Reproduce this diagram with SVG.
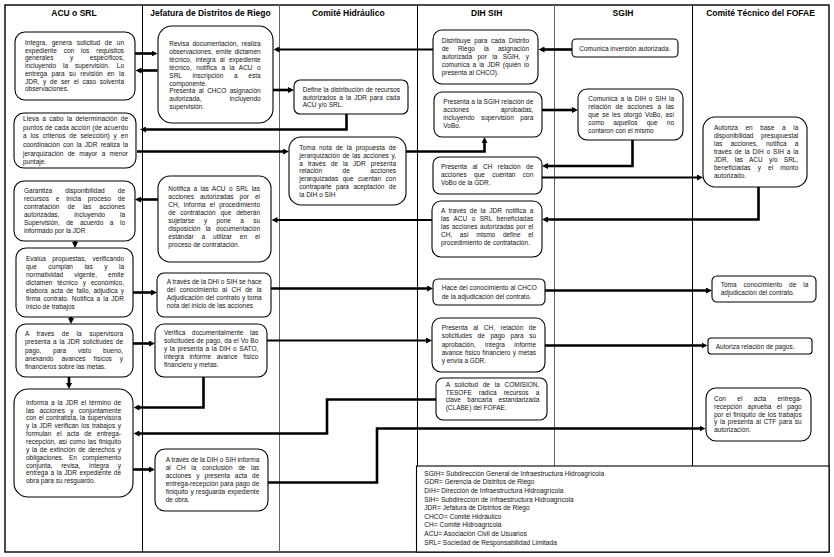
<svg xmlns="http://www.w3.org/2000/svg" width="834" height="557" viewBox="0 0 834 557">
<style>
.bg{fill:#fff}
.frame{fill:none;stroke:#000;stroke-width:1.4}
.lane{stroke:#000;stroke-width:1}
.lane2{stroke:#666;stroke-width:1}
.box{fill:#fff;stroke:#000;stroke-width:1.1}
.h{font-family:"Liberation Sans",Arial,sans-serif;font-size:8.5px;font-weight:bold;text-anchor:middle;fill:#000}
text.t{font-family:"Liberation Sans",Arial,sans-serif;font-size:6.5px;fill:#111}
text.l{font-family:"Liberation Sans",Arial,sans-serif;font-size:6.6px;fill:#111}
.c{fill:none;stroke:#000;stroke-width:2.6;marker-end:url(#ah)}
.thin{stroke-width:1.8}
.mid{stroke-width:2.1}
</style>
<defs>
<marker id="ah" viewBox="0 0 6 6" refX="2" refY="3" markerWidth="6" markerHeight="6" markerUnits="userSpaceOnUse" orient="auto">
<path d="M0,0 L6,3 L0,6 z" fill="#000"/>
</marker>
</defs>
<rect class="bg" x="0" y="0" width="834" height="557"/>
<g id="lanes">
<rect class="frame" x="5" y="5" width="824" height="547"/>
<line class="lane" x1="142.5" y1="5" x2="142.5" y2="552"/>
<line class="lane2" x1="279.5" y1="5" x2="279.5" y2="552"/>
<line class="lane" x1="417.5" y1="5" x2="417.5" y2="552"/>
<line class="lane2" x1="554.5" y1="5" x2="554.5" y2="466"/>
<line class="lane" x1="692.5" y1="5" x2="692.5" y2="466"/>
<text class="h" x="74" y="16">ACU o SRL</text>
<text class="h" x="210.5" y="16">Jefatura de Distritos de Riego</text>
<text class="h" x="348.3" y="16">Comité Hidráulico</text>
<text class="h" x="486.7" y="16">DIH SIH</text>
<text class="h" x="623" y="16">SGIH</text>
<text class="h" x="760.5" y="16">Comité Técnico del FOFAE</text>
</g>
<g id="connectors">
<path class="c" d="M135,53.5 H153.5"/>
<path class="c" d="M157.5,70.5 H139.5"/>
<path class="c thin" d="M433,49.5 H277.5"/>
<path class="c" d="M572,49.5 H542.5"/>
<path class="c" d="M273,90 H290"/>
<path class="c" d="M346.5,114 V129.5 H144"/>
<path class="c" d="M137,151.5 H285"/>
<path class="c" d="M406,151.5 H484.5 V141"/>
<path class="c" d="M542,110 H574"/>
<path class="c" d="M632.5,140 V166 H546"/>
<path class="c mid" d="M542,177.5 H699"/>
<path class="c" d="M758.5,187 V219.5 H546"/>
<path class="c mid" d="M432,220 H275.5"/>
<path class="c" d="M158,199.5 H139"/>
<path class="c" d="M75,241 V244"/>
<path class="c" d="M133,292.5 H153"/>
<path class="c" d="M271,288.5 H429"/>
<path class="c" d="M545,290.5 H708"/>
<path class="c" d="M71,317 V320"/>
<path class="c" d="M133,343.5 H151"/>
<path class="c mid" d="M267,340.5 H428"/>
<path class="c" d="M545,345.5 H703.5"/>
<path class="c" d="M69,377 V385"/>
<path class="c" d="M203.5,376.5 V407.5 H137.5"/>
<path class="c" d="M436,399.5 H327 V433.5 H137.5"/>
<path class="c" d="M133,469.5 H151"/>
<path class="c" d="M268,482.5 H377 V428.5 H701.5"/>
</g>
<g id="A1">
<rect class="box" x="15" y="32" width="120" height="68" rx="10"/>
<text class="t" x="25" y="44.7" textLength="99" lengthAdjust="spacing" style="word-spacing:2.9px">Integra, genera solicitud de un</text>
<text class="t" x="25" y="52.5" textLength="99" lengthAdjust="spacing" style="word-spacing:5.1px">expediente con los requisitos</text>
<text class="t" x="25" y="60.2" textLength="99" lengthAdjust="spacing" style="word-spacing:14.8px">generales y específicos,</text>
<text class="t" x="25" y="68" textLength="99" lengthAdjust="spacing" style="word-spacing:5.2px">incluyendo la supervisión. Lo</text>
<text class="t" x="25" y="75.8" textLength="99" lengthAdjust="spacing" style="word-spacing:2.7px">entrega para su revisión en la</text>
<text class="t" x="25" y="83.6" textLength="99" lengthAdjust="spacing" style="word-spacing:1.9px">JDR, y de ser el caso solventa</text>
<text class="t" x="25" y="91.3">observaciones.</text>
</g>
<g id="A2">
<rect class="box" x="14" y="113" width="122" height="55" rx="10"/>
<text class="t" x="23" y="121" textLength="105" lengthAdjust="spacing" style="word-spacing:1.35px">Lleva a cabo la determinación de</text>
<text class="t" x="23" y="129.7" textLength="105" lengthAdjust="spacing">puntos de cada acción (de acuerdo</text>
<text class="t" x="23" y="138.3" textLength="105" lengthAdjust="spacing" style="word-spacing:2.1px">a los criterios de selección) y en</text>
<text class="t" x="23" y="147" textLength="105" lengthAdjust="spacing" style="word-spacing:1.4px">coordinación con la JDR realiza la</text>
<text class="t" x="23" y="155.7" textLength="105" lengthAdjust="spacing" style="word-spacing:2.6px">jerarquización de mayor a menor</text>
<text class="t" x="23" y="164.3">puntaje.</text>
</g>
<g id="A3">
<rect class="box" x="14" y="181" width="121" height="60" rx="10"/>
<text class="t" x="24" y="192.7" textLength="101" lengthAdjust="spacing" style="word-spacing:11.3px">Garantiza disponibilidad de</text>
<text class="t" x="24" y="200.7" textLength="101" lengthAdjust="spacing" style="word-spacing:5px">recursos e inicia proceso de</text>
<text class="t" x="24" y="208.7" textLength="101" lengthAdjust="spacing" style="word-spacing:6.3px">contratación de las acciones</text>
<text class="t" x="24" y="216.7" textLength="101" lengthAdjust="spacing" style="word-spacing:12.9px">autorizadas, incluyendo la</text>
<text class="t" x="24" y="224.7" textLength="101" lengthAdjust="spacing" style="word-spacing:4.7px">Supervisión, de acuerdo a lo</text>
<text class="t" x="24" y="232.7">informado por la JDR</text>
</g>
<g id="A4">
<rect class="box" x="16" y="248" width="117" height="69" rx="10"/>
<text class="t" x="26" y="261.3" textLength="98" lengthAdjust="spacing" style="word-spacing:4.6px">Evalúa propuestas, verificando</text>
<text class="t" x="26" y="269.2" textLength="98" lengthAdjust="spacing" style="word-spacing:9.7px">que cumplan las y la</text>
<text class="t" x="26" y="277.1" textLength="98" lengthAdjust="spacing" style="word-spacing:9.3px">normatividad vigente, emite</text>
<text class="t" x="26" y="285" textLength="98" lengthAdjust="spacing" style="word-spacing:3px">dictamen técnico y económico,</text>
<text class="t" x="26" y="292.9" textLength="98" lengthAdjust="spacing" style="word-spacing:1.3px">elabora acta de fallo, adjudica y</text>
<text class="t" x="26" y="300.8" textLength="98" lengthAdjust="spacing" style="word-spacing:1.25px">firma contrato. Notifica a la JDR</text>
<text class="t" x="26" y="308.7">inicio de trabajos</text>
</g>
<g id="A5">
<rect class="box" x="16" y="324" width="117" height="53" rx="10"/>
<text class="t" x="25" y="336.3" textLength="98" lengthAdjust="spacing" style="word-spacing:5.7px">A través de la supervisora</text>
<text class="t" x="25" y="344.4" textLength="98" lengthAdjust="spacing" style="word-spacing:0.96px">presenta a la JDR solicitudes de</text>
<text class="t" x="25" y="352.5" textLength="98" lengthAdjust="spacing" style="word-spacing:10px">pago, para visto bueno,</text>
<text class="t" x="25" y="360.6" textLength="98" lengthAdjust="spacing" style="word-spacing:6.2px">anexando avances físicos y</text>
<text class="t" x="25" y="368.7">financieros sobre las metas.</text>
</g>
<g id="A6">
<rect class="box" x="14" y="389" width="119" height="108" rx="14"/>
<text class="t" x="26" y="404.7" textLength="95" lengthAdjust="spacing" style="word-spacing:1.1px">Informa a la JDR el término de</text>
<text class="t" x="26" y="412.6" textLength="95" lengthAdjust="spacing" style="word-spacing:3.6px">las acciones y conjuntamente</text>
<text class="t" x="26" y="420.4" textLength="95" lengthAdjust="spacing" style="word-spacing:0.45px">con el contratista, la supervisora</text>
<text class="t" x="26" y="428.3" textLength="95" lengthAdjust="spacing" style="word-spacing:0.7px">y la JDR verifican los trabajos y</text>
<text class="t" x="26" y="436.1" textLength="95" lengthAdjust="spacing" style="word-spacing:3.4px">formulan el acta de entrega-</text>
<text class="t" x="26" y="444" textLength="95" lengthAdjust="spacing" style="word-spacing:0.7px">recepción, así como las finiquito</text>
<text class="t" x="26" y="451.9" textLength="95" lengthAdjust="spacing" style="word-spacing:0.96px">y la de extinción de derechos y</text>
<text class="t" x="26" y="459.7" textLength="95" lengthAdjust="spacing" style="word-spacing:3.6px">obligaciones. En complemento</text>
<text class="t" x="26" y="467.6" textLength="95" lengthAdjust="spacing" style="word-spacing:7px">conjunta, revisa, integra y</text>
<text class="t" x="26" y="475.4" textLength="95" lengthAdjust="spacing" style="word-spacing:0.7px">entrega a la JDR expediente de</text>
<text class="t" x="26" y="483.3">obra para su resguardo.</text>
</g>
<g id="J1">
<rect class="box" x="158" y="26" width="115" height="97" rx="14"/>
<text class="t" x="169.3" y="46" textLength="91.4" lengthAdjust="spacing" style="word-spacing:1.6px">Revisa documentación, realiza</text>
<text class="t" x="169.3" y="53.9" textLength="91.4" lengthAdjust="spacing" style="word-spacing:1.1px">observaciones, emite dictamen</text>
<text class="t" x="169.3" y="61.8" textLength="91.4" lengthAdjust="spacing" style="word-spacing:2.3px">técnico, integra al expediente</text>
<text class="t" x="169.3" y="69.7" textLength="91.4" lengthAdjust="spacing" style="word-spacing:2.7px">técnico, notifica a la ACU o</text>
<text class="t" x="169.3" y="77.6" textLength="91.4" lengthAdjust="spacing" style="word-spacing:8.9px">SRL inscripción a esta</text>
<text class="t" x="169.3" y="85.5">componente.</text>
<text class="t" x="169.3" y="93.4" textLength="91.4" lengthAdjust="spacing" style="word-spacing:1.6px">Presenta al CHCO asignación</text>
<text class="t" x="169.3" y="101.3" textLength="91.4" lengthAdjust="spacing" style="word-spacing:26.4px">autorizada, incluyendo</text>
<text class="t" x="169.3" y="109.2">supervisión.</text>
</g>
<g id="J2">
<rect class="box" x="158" y="176" width="113" height="86" rx="12"/>
<text class="t" x="168.3" y="191" textLength="91.7" lengthAdjust="spacing" style="word-spacing:1.5px">Notifica a las ACU o SRL las</text>
<text class="t" x="168.3" y="199" textLength="91.7" lengthAdjust="spacing" style="word-spacing:4.2px">acciones autorizadas por el</text>
<text class="t" x="168.3" y="207" textLength="91.7" lengthAdjust="spacing" style="word-spacing:2.5px">CH, informa el procedimiento</text>
<text class="t" x="168.3" y="215" textLength="91.7" lengthAdjust="spacing" style="word-spacing:3px">de contratación que deberán</text>
<text class="t" x="168.3" y="223" textLength="91.7" lengthAdjust="spacing" style="word-spacing:7.5px">sujetarse y pone a su</text>
<text class="t" x="168.3" y="231" textLength="91.7" lengthAdjust="spacing" style="word-spacing:3.6px">disposición la documentación</text>
<text class="t" x="168.3" y="239" textLength="91.7" lengthAdjust="spacing" style="word-spacing:6.1px">estándar a utilizar en el</text>
<text class="t" x="168.3" y="247">proceso de contratación.</text>
</g>
<g id="J3">
<rect class="box" x="157" y="273" width="114" height="44" rx="7"/>
<text class="t" x="166.7" y="283.7" textLength="95" lengthAdjust="spacing">A través de la DHI o SIH se hace</text>
<text class="t" x="166.7" y="291.8" textLength="95" lengthAdjust="spacing" style="word-spacing:2.5px">del conocimiento al CH de la</text>
<text class="t" x="166.7" y="299.9" textLength="95" lengthAdjust="spacing" style="word-spacing:0.3px">Adjudicación del contrato y toma</text>
<text class="t" x="166.7" y="308">nota del inicio de las acciones</text>
</g>
<g id="J4">
<rect class="box" x="155" y="324" width="112" height="53" rx="9"/>
<text class="t" x="164" y="335.3" textLength="94.3" lengthAdjust="spacing" style="word-spacing:4.8px">Verifica documentalmente las</text>
<text class="t" x="164" y="343.3" textLength="94.3" lengthAdjust="spacing" style="word-spacing:0.2px">solicitudes de pago, da el Vo Bo</text>
<text class="t" x="164" y="351.3" textLength="94.3" lengthAdjust="spacing" style="word-spacing:0.7px">y la presenta a la DIH o SATO,</text>
<text class="t" x="164" y="359.3" textLength="94.3" lengthAdjust="spacing" style="word-spacing:3.9px">integra informe avance físico</text>
<text class="t" x="164" y="367.3">financiero y metas.</text>
</g>
<g id="J5">
<rect class="box" x="155" y="449" width="113" height="62" rx="10"/>
<text class="t" x="165.7" y="462" textLength="93.6" lengthAdjust="spacing">A través de la DIH o SIH informa</text>
<text class="t" x="165.7" y="470" textLength="93.6" lengthAdjust="spacing" style="word-spacing:3.8px">al CH la conclusión de las</text>
<text class="t" x="165.7" y="478" textLength="93.6" lengthAdjust="spacing" style="word-spacing:3.2px">acciones y presenta acta de</text>
<text class="t" x="165.7" y="486" textLength="93.6" lengthAdjust="spacing" style="word-spacing:0.3px">entrega-recepción para pago de</text>
<text class="t" x="165.7" y="494" textLength="93.6" lengthAdjust="spacing" style="word-spacing:0.4px">finiquito y resguarda expediente</text>
<text class="t" x="165.7" y="502">de obra.</text>
</g>
<g id="C1">
<rect class="box" x="294" y="80" width="114" height="34" rx="6"/>
<text class="t" x="302.7" y="92" textLength="97.3" lengthAdjust="spacing" style="word-spacing:0.3px">Define la distribución de recursos</text>
<text class="t" x="302.7" y="99.7" textLength="97.3" lengthAdjust="spacing" style="word-spacing:1.25px">autorizados a la JDR para cada</text>
<text class="t" x="302.7" y="107.3">ACU y/o SRL.</text>
</g>
<g id="C2">
<rect class="box" x="289" y="137" width="117" height="68" rx="12"/>
<text class="t" x="299.3" y="149.7" textLength="96.7" lengthAdjust="spacing" style="word-spacing:2px">Toma nota de la propuesta de</text>
<text class="t" x="299.3" y="157.6" textLength="96.7" lengthAdjust="spacing" style="word-spacing:0.8px">jerarquización de las acciones y,</text>
<text class="t" x="299.3" y="165.5" textLength="96.7" lengthAdjust="spacing" style="word-spacing:3.2px">a través de la JDR presenta</text>
<text class="t" x="299.3" y="173.4" textLength="96.7" lengthAdjust="spacing" style="word-spacing:18.7px">relación de acciones</text>
<text class="t" x="299.3" y="181.3" textLength="96.7" lengthAdjust="spacing" style="word-spacing:2.7px">jerarquizadas que cuentan con</text>
<text class="t" x="299.3" y="189.2" textLength="96.7" lengthAdjust="spacing" style="word-spacing:2.7px">contraparte para aceptación de</text>
<text class="t" x="299.3" y="197.1">la DIH o SIH</text>
</g>
<g id="D1">
<rect class="box" x="433" y="30" width="105" height="54" rx="9"/>
<text class="t" x="441.7" y="42.7" textLength="87.3" lengthAdjust="spacing" style="word-spacing:1.9px">Distribuye para cada Distrito</text>
<text class="t" x="441.7" y="50.7" textLength="87.3" lengthAdjust="spacing" style="word-spacing:7.2px">de Riego la asignación</text>
<text class="t" x="441.7" y="58.7" textLength="87.3" lengthAdjust="spacing" style="word-spacing:3.6px">autorizada por la SGIH, y</text>
<text class="t" x="441.7" y="66.7" textLength="87.3" lengthAdjust="spacing" style="word-spacing:1.2px">comunica a la JDR (quién lo</text>
<text class="t" x="441.7" y="74.7">presenta al CHCO).</text>
</g>
<g id="D2">
<rect class="box" x="434" y="92" width="108" height="45" rx="8"/>
<text class="t" x="443.3" y="103.7" textLength="90" lengthAdjust="spacing">Presenta a la SGIH relación de</text>
<text class="t" x="443.3" y="111.7" textLength="90" lengthAdjust="spacing" style="word-spacing:30px">acciones aprobadas,</text>
<text class="t" x="443.3" y="119.7" textLength="90" lengthAdjust="spacing" style="word-spacing:4.7px">incluyendo supervisión para</text>
<text class="t" x="443.3" y="127.7">VoBo.</text>
</g>
<g id="D3">
<rect class="box" x="433" y="157" width="109" height="37" rx="7"/>
<text class="t" x="441" y="168.7" textLength="92.3" lengthAdjust="spacing" style="word-spacing:3.7px">Presenta al CH relación de</text>
<text class="t" x="441" y="176.7" textLength="92.3" lengthAdjust="spacing" style="word-spacing:5.6px">acciones que cuentan con</text>
<text class="t" x="441" y="184.7">VoBo de la GDR.</text>
</g>
<g id="D4">
<rect class="box" x="432" y="201" width="110" height="56" rx="9"/>
<text class="t" x="441" y="213" textLength="92.3" lengthAdjust="spacing" style="word-spacing:1.7px">A través de la JDR notifica a</text>
<text class="t" x="441" y="220.9" textLength="92.3" lengthAdjust="spacing" style="word-spacing:2.6px">las ACU o SRL beneficiadas</text>
<text class="t" x="441" y="228.8" textLength="92.3" lengthAdjust="spacing" style="word-spacing:0.8px">las acciones autorizadas por el</text>
<text class="t" x="441" y="236.7" textLength="92.3" lengthAdjust="spacing" style="word-spacing:5.9px">CH, así mismo define el</text>
<text class="t" x="441" y="244.6">procedimiento de contratación.</text>
</g>
<g id="D5">
<rect class="box" x="433" y="279" width="112" height="26" rx="5"/>
<text class="t" x="441.7" y="290.3" textLength="95" lengthAdjust="spacing">Hace del conocimiento al CHCO</text>
<text class="t" x="441.7" y="298.6">de la adjudicación del contrato.</text>
</g>
<g id="D6">
<rect class="box" x="432" y="318" width="113" height="54" rx="9"/>
<text class="t" x="441.7" y="330.3" textLength="94.3" lengthAdjust="spacing" style="word-spacing:3.7px">Presenta al CH, relación de</text>
<text class="t" x="441.7" y="338.4" textLength="94.3" lengthAdjust="spacing" style="word-spacing:3.8px">solicitudes de pago para su</text>
<text class="t" x="441.7" y="346.5" textLength="94.3" lengthAdjust="spacing" style="word-spacing:7.6px">aprobación, integra informe</text>
<text class="t" x="441.7" y="354.6" textLength="94.3" lengthAdjust="spacing" style="word-spacing:0.5px">avance físico financiero y metas</text>
<text class="t" x="441.7" y="362.7">y envía a GDR.</text>
</g>
<g id="D7">
<rect class="box" x="436" y="378" width="111" height="42" rx="7"/>
<text class="t" x="445.7" y="387" textLength="93.6" lengthAdjust="spacing" style="word-spacing:2.9px">A solicitud de la COMISION,</text>
<text class="t" x="445.7" y="394.6" textLength="93.6" lengthAdjust="spacing" style="word-spacing:5.3px">TESOFE radica recursos a</text>
<text class="t" x="445.7" y="402.2" textLength="93.6" lengthAdjust="spacing" style="word-spacing:4.7px">clave bancaria estandarizada</text>
<text class="t" x="445.7" y="409.8">(CLABE) del FOFAE.</text>
</g>
<g id="S1">
<rect class="box" x="572" y="39" width="106" height="18" rx="4"/>
<text class="t" x="579.3" y="51.3">Comunica inversión autorizada.</text>
</g>
<g id="S2">
<rect class="box" x="578" y="89" width="105" height="51" rx="9"/>
<text class="t" x="588.3" y="101.3" textLength="85.7" lengthAdjust="spacing" style="word-spacing:1px">Comunica a la DIH o SIH la</text>
<text class="t" x="588.3" y="109.2" textLength="85.7" lengthAdjust="spacing" style="word-spacing:2.7px">relación de acciones a las</text>
<text class="t" x="588.3" y="117" textLength="85.7" lengthAdjust="spacing" style="word-spacing:1.2px">que se les otorgó VoBo, así</text>
<text class="t" x="588.3" y="124.9" textLength="85.7" lengthAdjust="spacing" style="word-spacing:7.4px">como aquellos que no</text>
<text class="t" x="588.3" y="132.7">contaron con el mismo</text>
</g>
<g id="F1">
<rect class="box" x="703" y="117" width="104" height="70" rx="12"/>
<text class="t" x="714" y="130.3" textLength="84.3" lengthAdjust="spacing" style="word-spacing:5.8px">Autoriza en base a la</text>
<text class="t" x="714" y="138.3" textLength="84.3" lengthAdjust="spacing" style="word-spacing:5.9px">disponibilidad presupuestal</text>
<text class="t" x="714" y="146.2" textLength="84.3" lengthAdjust="spacing" style="word-spacing:6.3px">las acciones, notifica a</text>
<text class="t" x="714" y="154.2" textLength="84.3" lengthAdjust="spacing" style="word-spacing:1.05px">través de la DIH o SIH a la</text>
<text class="t" x="714" y="162.1" textLength="84.3" lengthAdjust="spacing" style="word-spacing:4.4px">JDR, las ACU y/o SRL,</text>
<text class="t" x="714" y="170.1" textLength="84.3" lengthAdjust="spacing" style="word-spacing:5.3px">beneficiadas y el monto</text>
<text class="t" x="714" y="178">autorizado.</text>
</g>
<g id="F2">
<rect class="box" x="712" y="276" width="104" height="26" rx="5"/>
<text class="t" x="720.7" y="287" textLength="87.6" lengthAdjust="spacing" style="word-spacing:5px">Toma conocimiento de la</text>
<text class="t" x="720.7" y="294.7">adjudicación del contrato.</text>
</g>
<g id="F3">
<rect class="box" x="708" y="338" width="104" height="16" rx="3"/>
<text class="t" x="715.7" y="349">Autoriza relación de pagos.</text>
</g>
<g id="F4">
<rect class="box" x="706" y="388" width="105" height="53" rx="10"/>
<text class="t" x="714" y="401" textLength="87.7" lengthAdjust="spacing" style="word-spacing:9.6px">Con el acta entrega-</text>
<text class="t" x="714" y="408.8" textLength="87.7" lengthAdjust="spacing" style="word-spacing:3.6px">recepción aprueba el pago</text>
<text class="t" x="714" y="416.5" textLength="87.7" lengthAdjust="spacing" style="word-spacing:0.6px">por el finiquito de los trabajos</text>
<text class="t" x="714" y="424.3" textLength="87.7" lengthAdjust="spacing" style="word-spacing:0.9px">y la presenta al CTF para su</text>
<text class="t" x="714" y="432">autorización.</text>
</g>
<g id="legend">
<rect class="box" x="416.5" y="466" width="412.5" height="86" rx="0"/>
<text class="l" x="424.3" y="475.5">SGIH= Subdirección General de Infraestructura Hidroagrícola</text>
<text class="l" x="424.3" y="484.2">GDR= Gerencia de Distritos de Riego</text>
<text class="l" x="424.3" y="492.8">DIH= Dirección de Infraestructura Hidroagrícola</text>
<text class="l" x="424.3" y="501.5">SIH= Subdirección de Infraestructura Hidroagrícola</text>
<text class="l" x="424.3" y="510.1">JDR= Jefatura de Distritos de Riego</text>
<text class="l" x="424.3" y="518.8">CHCO= Comité Hidráulico</text>
<text class="l" x="424.3" y="527.4">CH= Comité Hidroagrícola</text>
<text class="l" x="424.3" y="536.1">ACU= Asociación Civil de Usuarios</text>
<text class="l" x="424.3" y="544.7">SRL= Sociedad de Responsabilidad Limitada</text>
</g>
</svg>
